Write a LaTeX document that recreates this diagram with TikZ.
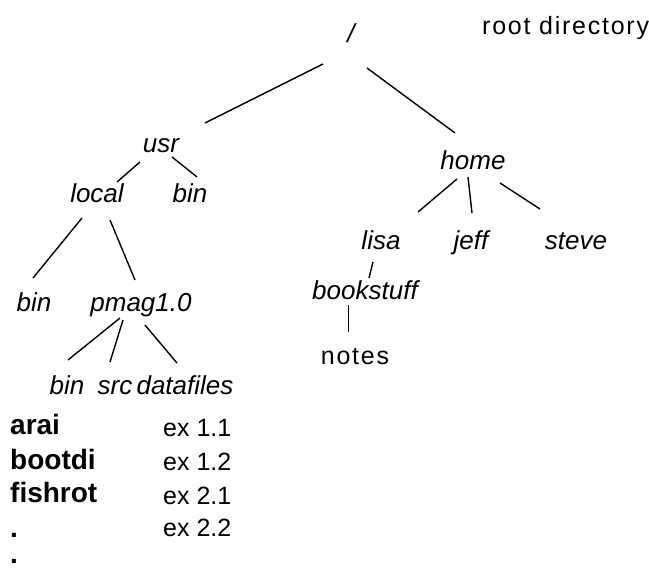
\documentclass[tikz,border=0pt]{standalone}
\usepackage{fontspec}
\setmainfont{Liberation Sans}
\newfontfamily\spacedfont[LetterSpace=7]{Liberation Sans}
\usetikzlibrary{calc}
\tikzset{
  dir/.style={inner sep=0pt, anchor=base, font=\fontsize{26}{30}\selectfont\itshape},
  plain/.style={inner sep=0pt, anchor=base, font=\fontsize{25}{30}\selectfont\spacedfont},
  boldtxt/.style={inner sep=0pt, anchor=base west, font=\fontsize{28}{30}\selectfont\bfseries},
  dottxt/.style={boldtxt, text height=4pt, text depth=0pt},
  extxt/.style={inner sep=0pt, anchor=base west, font=\fontsize{25}{30}\selectfont},
  branch/.style={line width=1.4pt, black}
}
\begin{document}
\begin{tikzpicture}[x=1pt,y=-1pt]
\useasboundingbox (0,0) rectangle (649,569);
% labels
\node[plain, anchor=base west] (rootlbl) at (482,35) {root directory};
\node[dir] (root) at (351,43) {/};
\node[dir] (usr) at (161,153) {usr};
\node[dir] (home) at (473,170) {home};
\node[dir] (local) at (97,203) {local};
\node[dir] (ubin) at (190,203) {bin};
\node[dir] (lbin) at (34,312) {bin};
\node[dir] (pmag) at (141,312) {pmag1.0};
\node[dir] (pbin) at (67,395) {bin};
\node[dir] (src) at (115,395) {src};
\node[dir] (data) at (185,395) {datafiles};
\node[dir] (lisa) at (381,250) {lisa};
\node[dir] (jeff) at (471,250) {jeff};
\node[dir] (steve) at (576,250) {steve};
\node[dir] (book) at (365,300) {bookstuff};
\node[plain] (notes) at (355,365) {notes};
% file list
\node[boldtxt] (arai) at (10,435) {arai};
\node[boldtxt] (bootdi) at (10,470) {bootdi};
\node[boldtxt] (fishrot) at (10,503) {fishrot};
\node[dottxt] (dotA) at (10,538) {.};
\node[dottxt] (dotB) at (10,564) {.};
\node[extxt] (exA) at (163,437) {ex 1.1};
\node[extxt] (exB) at (163,471) {ex 1.2};
\node[extxt] (exC) at (163,505) {ex 2.1};
\node[extxt] (exD) at (163,537) {ex 2.2};
% connectors
\draw[branch] ([shift={(-28,21)}]root.base) -- ([shift={(44,-30)}]usr.base);
\draw[branch] ([shift={(16,25)}]root.base) -- ([shift={(-18,-37)}]home.base);
\draw[branch] ([shift={(-21,9)}]usr.base) -- ([shift={(20,-21)}]local.base);
\draw[branch] ([shift={(11,4)}]usr.base) -- ([shift={(7,-26)}]ubin.base);
\draw[branch] ([shift={(-15,15)}]local.base) -- ([shift={(-1,-34)}]lbin.base);
\draw[branch] ([shift={(13,17)}]local.base) -- ([shift={(-6,-32)}]pmag.base);
\draw[branch] ([shift={(-21,6)}]pmag.base) -- ([shift={(1,-35)}]pbin.base);
\draw[branch] ([shift={(-18,8)}]pmag.base) -- ([shift={(-5,-33)}]src.base);
\draw[branch] ([shift={(4,13)}]pmag.base) -- ([shift={(-8,-32)}]data.base);
\draw[branch] ([shift={(-16,9)}]home.base) -- ([shift={(37,-38)}]lisa.base);
\draw[branch] ([shift={(-5,7)}]home.base) -- ([shift={(1,-37)}]jeff.base);
\draw[branch] ([shift={(27,13)}]home.base) -- ([shift={(-36,-41)}]steve.base);
\draw[branch] ([shift={(-8,12)}]lisa.base) -- ([shift={(4,-22)}]book.base);
\draw[line width=1pt] ([shift={(-17,5)}]book.base) -- ([shift={(-7,-33)}]notes.base);
\end{tikzpicture}
\end{document}
